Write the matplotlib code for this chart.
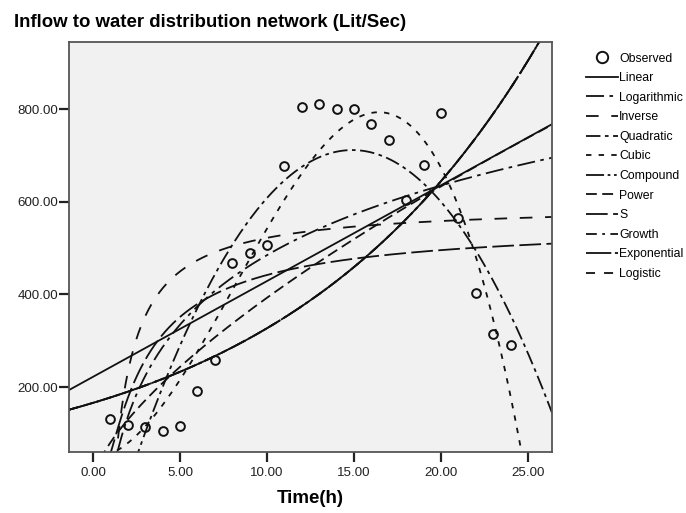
import numpy as np
import matplotlib
matplotlib.use("Agg")
import matplotlib.pyplot as plt

hours = [1, 2, 3, 4, 5, 6, 7, 8, 9, 10, 11, 12,
         13, 14, 15, 16, 17, 18, 19, 20, 21, 22, 23, 24]
inflow = [131, 118, 115, 105, 116, 191, 258, 468, 489, 506, 677, 804,
          811, 800, 800, 768, 733, 604, 679, 791, 565, 403, 314, 291]

model_names = ["Linear", "Logarithmic", "Inverse", "Quadratic", "Cubic",
               "Compound", "Power", "S", "Growth", "Exponential", "Logistic"]
x_ticks = [0, 5, 10, 15, 20, 25]
y_ticks = [200, 400, 600, 800]

plt.rcParams['font.family'] = ['Liberation Sans', 'DejaVu Sans']

t = np.array(hours, dtype=float)
y = np.array(inflow, dtype=float)

# curve estimation (least squares, as in SPSS)
lin = np.polyfit(t, y, 1)
logc = np.polyfit(np.log(t), y, 1)
inv = np.polyfit(1.0 / t, y, 1)
quad = np.polyfit(t, y, 2)
cub = np.polyfit(t, y, 3)
expc = np.polyfit(t, np.log(y), 1)          # compound/growth/exponential
powc = np.polyfit(np.log(t), np.log(y), 1)
sc = np.polyfit(1.0 / t, np.log(y), 1)
logi = np.polyfit(t, np.log(1.0 / y), 1)    # logistic without upper bound

xlo, xhi = -1.38, 26.38
tf = np.linspace(xlo, xhi, 600)
tp = np.linspace(0.05, xhi, 1200)

curves = {
    "Linear": (tf, np.polyval(lin, tf)),
    "Logarithmic": (tp, np.polyval(logc, np.log(tp))),
    "Inverse": (tp, np.polyval(inv, 1.0 / tp)),
    "Quadratic": (tf, np.polyval(quad, tf)),
    "Cubic": (tf, np.polyval(cub, tf)),
    "Compound": (tf, np.exp(np.polyval(expc, tf))),
    "Power": (tp, np.exp(np.polyval(powc, np.log(tp)))),
    "S": (tp, np.exp(np.polyval(sc, 1.0 / tp))),
    "Growth": (tf, np.exp(np.polyval(expc, tf))),
    "Exponential": (tf, np.exp(np.polyval(expc, tf))),
    "Logistic": (tf, 1.0 / np.exp(np.polyval(logi, tf))),
}
styles = {
    "Linear": '-',
    "Logarithmic": (0, (10, 3, 2, 3)),
    "Inverse": (0, (7, 7)),
    "Quadratic": (0, (8, 2.5, 2, 2.5)),
    "Cubic": (0, (3, 4)),
    "Compound": (0, (10, 2, 1.5, 2, 1.5, 2)),
    "Power": (0, (6, 3)),
    "S": (0, (12, 3)),
    "Growth": (0, (6, 3, 1.5, 3)),
    "Exponential": (0, (14, 2)),
    "Logistic": (0, (5, 5)),
}

fig = plt.figure(figsize=(6.86, 5.13), dpi=100)
ax = fig.add_axes([0.1006, 0.1189, 0.7041, 0.7992])
ax.set_facecolor('#f1f1f1')

handles = []
obs, = ax.plot(t, y, linestyle='none', marker='o', markersize=6.3,
               markerfacecolor='none', markeredgecolor='#111111',
               markeredgewidth=1.4, label='Observed')
handles.append(obs)
for name in model_names:
    xs, ys = curves[name]
    ln, = ax.plot(xs, ys, color='#111111', linewidth=1.3,
                  linestyle=styles[name], label=name)
    handles.append(ln)

ax.set_xlim(xlo, xhi)
ax.set_ylim(60, 945)
ax.set_xticks(x_ticks)
ax.set_xticklabels([f"{v:.2f}" for v in x_ticks])
ax.set_yticks(y_ticks)
ax.set_yticklabels([f"{v:.2f}" for v in y_ticks])
ax.tick_params(axis='both', direction='out', length=7, width=1.6,
               labelsize=9.6, colors='#222222')
ax.tick_params(axis='y', pad=1)
ax.tick_params(axis='x', pad=4)
for s in ax.spines.values():
    s.set_color('#555555')
    s.set_linewidth(1.3)

ax.set_xlabel("Time(h)", fontsize=13.5, fontweight='bold', labelpad=8)
fig.text(0.02, 0.957, "Inflow to water distribution network (Lit/Sec)",
         fontsize=13.4, fontweight='bold', ha='left', va='center')

fig.legend(handles=handles, loc='upper left', bbox_to_anchor=(0.847, 0.907),
           frameon=False, fontsize=8.8, handlelength=2.6, handletextpad=0.12,
           labelspacing=0.62, borderaxespad=0, markerscale=1.3)

fig.savefig("out.png", dpi=100, facecolor='white')
